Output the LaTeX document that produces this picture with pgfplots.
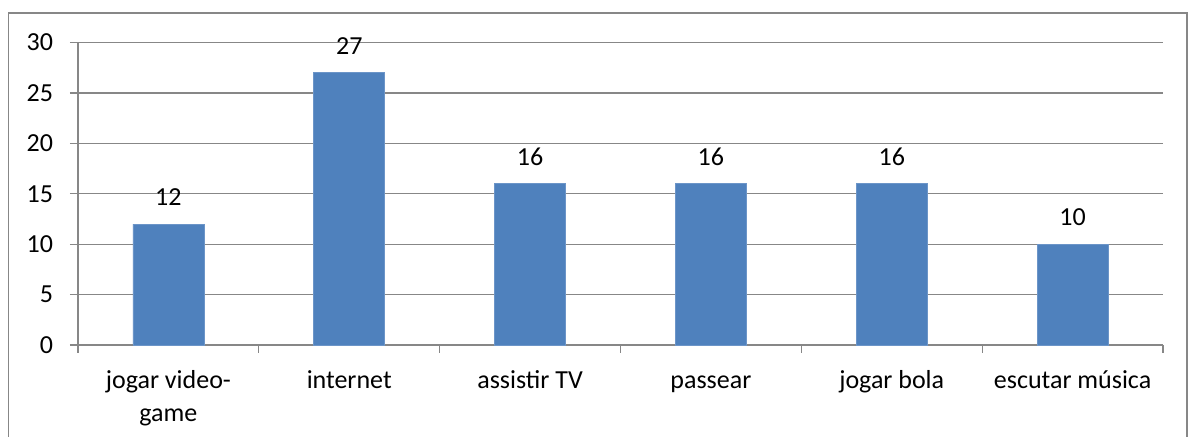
\documentclass[border=0pt]{standalone}
\usepackage{pgfplots}
\pgfplotsset{compat=1.18}
\usepackage{fontspec}
\setmainfont{Carlito}
\definecolor{barblue}{HTML}{4F81BD}
\definecolor{baredge}{HTML}{6C95C8}
\definecolor{gridgray}{HTML}{878787}
\begin{document}
\fontsize{13}{16.25}\selectfont
\begin{tikzpicture}
\clip (-39pt,-46pt) rectangle (558.5pt,172.5pt);
\draw[gridgray, line width=0.6pt] (-34.75pt,-60pt) rectangle (554.5pt,166pt);
\begin{axis}[
  at={(0pt,0pt)}, anchor=south west,
  width=542.5pt, height=151.2pt, scale only axis,
  xmin=-0.5, xmax=5.5, ymin=0, ymax=30,
  ybar, bar width=35.5pt,
  xtick={-0.5,0.5,...,5.5}, xticklabels={},
  extra x ticks={0,1,2,3,4,5},
  extra x tick labels={{\strut jogar video-\\game},\strut internet,\strut assistir TV,\strut passear,\strut jogar bola,\strut escutar música},
  extra x tick style={major tick length=0pt, xticklabel style={align=center, anchor=north, yshift=-6pt}},
  ytick={0,5,...,30},
  ymajorgrids, major grid style={gridgray, line width=0.6pt},
  axis x line*=bottom, axis y line*=left,
  axis line style={gridgray, line width=0.6pt, -},
  tick style={gridgray, line width=0.6pt},
  tick align=outside, major tick length=4pt,
  ticklabel style={font=\fontsize{13}{16.25}\selectfont, text=black},
  yticklabel style={xshift=-4pt},
  /pgf/number format/assume math mode=true,
  nodes near coords,
  every node near coord/.append style={font=\fontsize{13}{16.25}\selectfont, text=black, yshift=4.7pt},
  clip=false,
]
\addplot[fill=barblue, draw=baredge, line width=0.4pt] coordinates {(0,12) (1,27) (2,16) (3,16) (4,16) (5,10)};
\end{axis}
\end{tikzpicture}
\end{document}
